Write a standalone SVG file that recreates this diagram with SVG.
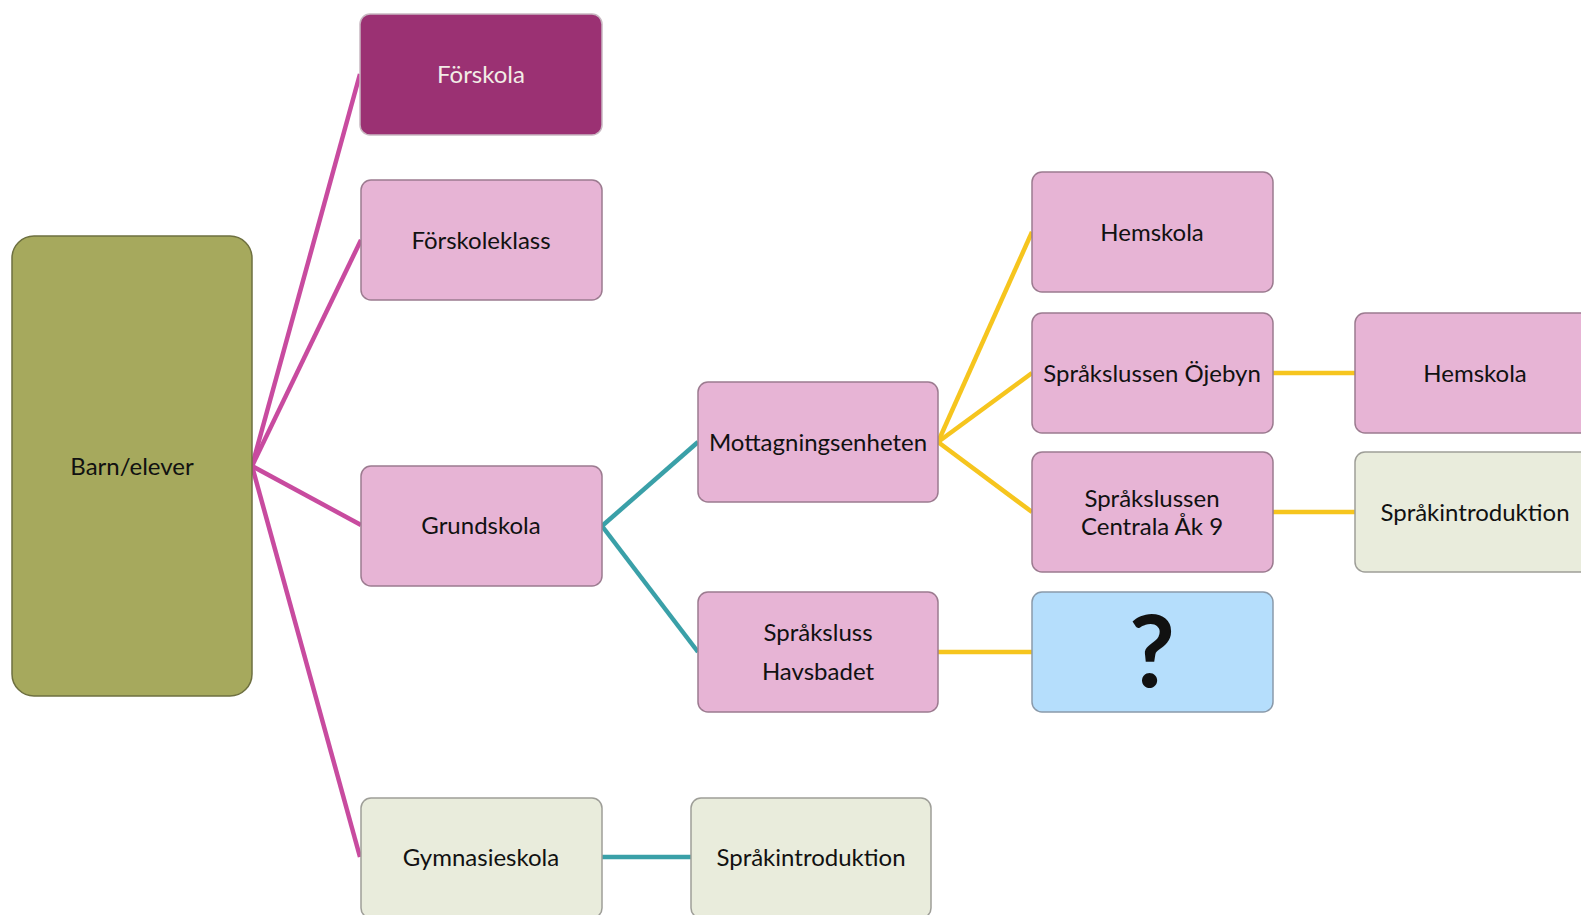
<svg xmlns="http://www.w3.org/2000/svg" width="1581" height="915" viewBox="0 0 1581 915">
<style>
.box{stroke-width:1.5}
.pink{fill:#E7B4D5;stroke:#9C7B90}
.plum{fill:#9B3173;stroke:#C9B8C2}
.pale{fill:#E9ECDC;stroke:#9E9E98}
.blue{fill:#B5DEFC;stroke:#8A9AAA}
.olive{fill:#A6A95D;stroke:#6E7040}
text{font-family:Lato,"Open Sans","Liberation Sans",sans-serif;font-size:24px;fill:#111;text-anchor:middle;dominant-baseline:central}
.light{fill:#F2ECE6}
.q{font-size:100px;font-weight:bold}
.c{fill:none;stroke-width:4.5;stroke-linecap:butt}
.cp{stroke:#C84B9F}
.ct{stroke:#3AA0A8}
.cy{stroke:#F6C51E}
</style>
<rect width="1581" height="915" fill="#fff"/>
<g id="connectors">
<line class="c cp" x1="252" y1="466" x2="360" y2="74"/>
<line class="c cp" x1="252" y1="466" x2="361" y2="240"/>
<line class="c cp" x1="252" y1="466" x2="361" y2="525"/>
<line class="c cp" x1="252" y1="466" x2="360" y2="857"/>
<line class="c ct" x1="602" y1="526" x2="698" y2="442"/>
<line class="c ct" x1="602" y1="526" x2="698" y2="652"/>
<line class="c ct" x1="602" y1="857" x2="691" y2="857"/>
<line class="c cy" x1="938" y1="442" x2="1032" y2="232"/>
<line class="c cy" x1="938" y1="442" x2="1032" y2="373"/>
<line class="c cy" x1="938" y1="442" x2="1032" y2="512"/>
<line class="c cy" x1="938" y1="652" x2="1032" y2="652"/>
<line class="c cy" x1="1273" y1="373" x2="1355" y2="373"/>
<line class="c cy" x1="1273" y1="512" x2="1355" y2="512"/>
</g>
<g id="barn"><rect class="box olive" x="12" y="236" width="240" height="460" rx="22"/><text x="132" y="465">Barn/elever</text></g>
<g id="forskola"><rect class="box plum" x="360" y="14" width="242" height="121" rx="10"/><text class="light" x="481" y="73">Förskola</text></g>
<g id="forskoleklass"><rect class="box pink" x="361" y="180" width="241" height="120" rx="10"/><text x="481" y="239">Förskoleklass</text></g>
<g id="grundskola"><rect class="box pink" x="361" y="466" width="241" height="120" rx="10"/><text x="481" y="524">Grundskola</text></g>
<g id="gymnasieskola"><rect class="box pale" x="361" y="798" width="241" height="120" rx="10"/><text x="481" y="856">Gymnasieskola</text></g>
<g id="sprakintro1"><rect class="box pale" x="691" y="798" width="240" height="120" rx="10"/><text x="811" y="856">Språkintroduktion</text></g>
<g id="mottagning"><rect class="box pink" x="698" y="382" width="240" height="120" rx="10"/><text x="818" y="441">Mottagningsenheten</text></g>
<g id="havsbadet"><rect class="box pink" x="698" y="592" width="240" height="120" rx="10"/><text x="818" y="631">Språksluss</text><text x="818" y="670">Havsbadet</text></g>
<g id="hemskola1"><rect class="box pink" x="1032" y="172" width="241" height="120" rx="10"/><text x="1152" y="231">Hemskola</text></g>
<g id="ojebyn"><rect class="box pink" x="1032" y="313" width="241" height="120" rx="10"/><text x="1152" y="372">Språkslussen Öjebyn</text></g>
<g id="centrala"><rect class="box pink" x="1032" y="452" width="241" height="120" rx="10"/><text x="1152" y="497">Språkslussen</text><text x="1152" y="525">Centrala Åk 9</text></g>
<g id="fraga"><rect class="box blue" x="1032" y="592" width="241" height="120" rx="10"/><text class="q" x="1152" y="648">?</text></g>
<g id="hemskola2"><rect class="box pink" x="1355" y="313" width="241" height="120" rx="10"/><text x="1475" y="372">Hemskola</text></g>
<g id="sprakintro2"><rect class="box pale" x="1355" y="452" width="241" height="120" rx="10"/><text x="1475" y="511">Språkintroduktion</text></g>
</svg>
